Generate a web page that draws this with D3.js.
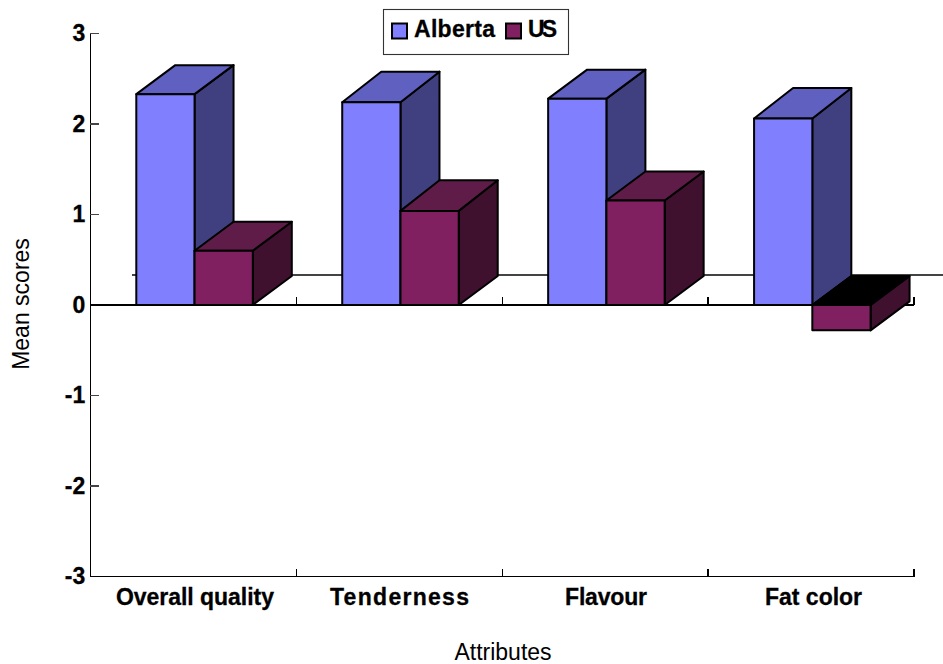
<!DOCTYPE html>
<html>
<head>
<meta charset="utf-8">
<script src="https://cdn.jsdelivr.net/npm/d3@7/dist/d3.min.js"></script>
<style>
  html, body { margin: 0; padding: 0; background: #fff; }
  text { font-family: "Liberation Sans", Arial, sans-serif; fill: #000; }
  .bold { font-weight: bold; font-size: 23px; stroke: #000; stroke-width: 0.3px; }
  .title { font-size: 23px; }
  .axis path, .axis line { stroke: #000; stroke-width: 1.2px; shape-rendering: crispEdges; }
  .axis .tick line { stroke: #444; }
</style>
</head>
<body>
<svg id="chart" width="943" height="664"></svg>
<script>
// Mean attribute scores by region
const categories = ["Overall quality", "Tenderness", "Flavour", "Fat color"];
const seriesNames = ["Alberta", "US"];
const albertaValues = [2.33, 2.24, 2.28, 2.06];
const usValues = [0.60, 1.04, 1.155, -0.28];
const yTicks = [3, 2, 1, 0, -1, -2, -3];
// Rendered widths and horizontal nudges of the category labels
const categoryLabelWidths = [158, 139, 82, 97];
const categoryLabelNudges = [1.7, 0.3, 0.9, 2.5];
// Top-face depth per category
const topDepths = [29, 30.6, 29, 30.6];

const svg = d3.select("#chart");
const plotLeft = 90.3, plotRight = 914, plotTop = 33.5, plotBottom = 576.5;
const depthX = 39, depthY = 29;

const x = d3.scaleBand().domain(categories).range([plotLeft, plotRight]);
// Two bars edge to edge inside each category band
const series = d3.scaleBand().domain(seriesNames).range([46, 162.5]);
const y = d3.scaleLinear().domain([-3, 3]).range([plotBottom, plotTop]);

const palette = {
  Alberta: { front: "#8080ff", top: "#6060c0", side: "#404080" },
  US: { front: "#802060", top: "#601c48", side: "#40102f" }
};

// Back wall floor line, offset by the 3D depth
svg.append("line")
  .attr("x1", 132).attr("x2", 943)
  .attr("y1", 275).attr("y2", 275)
  .attr("stroke", "#444").attr("stroke-width", 1.2)
  .style("shape-rendering", "crispEdges");

// Value axis
const yAxis = d3.axisLeft(y).tickValues(yTicks).tickSize(-9).offset(0)
  .tickFormat(d => String(d));
const yG = svg.append("g").attr("class", "axis").attr("transform", `translate(${plotLeft},0)`).call(yAxis);
yG.select(".domain").attr("d", `M0,${plotTop}V${plotBottom}`);
yG.selectAll("text").attr("class", "bold").attr("x", -5).attr("dy", "0.33em");

// Category axes: one along the bottom, one along zero
const edges = categories.map(c => x(c) + x.bandwidth());
const xBottom = svg.append("g").attr("class", "axis");
const xZero = svg.append("g").attr("class", "axis");
[[xBottom, plotBottom], [xZero, y(0)]].forEach(([g, yPos]) => {
  g.append("line").attr("x1", plotLeft).attr("x2", plotRight).attr("y1", yPos).attr("y2", yPos);
  g.selectAll("line.tick").data(edges).join("line").attr("class", "tick")
    .attr("x1", d => d).attr("x2", d => d)
    .attr("y1", yPos).attr("y2", yPos - 8);
});

// Category labels
svg.selectAll("text.cat").data(categories).join("text")
  .attr("class", "cat bold")
  .attr("x", (d, i) => x(d) + x.bandwidth() / 2 + categoryLabelNudges[i])
  .attr("y", 605)
  .attr("text-anchor", "middle")
  .attr("textLength", (d, i) => categoryLabelWidths[i])
  .attr("lengthAdjust", "spacing")
  .text(d => d);

// Extruded bars, back to front within each group
const records = categories.flatMap((c, i) => [
  { category: c, name: seriesNames[0], value: albertaValues[i], topDepth: topDepths[i] },
  { category: c, name: seriesNames[1], value: usValues[i], topDepth: d3.min([topDepths[i], 30.6]) }
]);

const bars = svg.selectAll("g.bar").data(records).join("g").attr("class", "bar");
const outline = sel => sel.attr("stroke", "#000").attr("stroke-width", 2).attr("stroke-linejoin", "round");

bars.each(function (d) {
  const g = d3.select(this);
  const x0 = x(d.category) + series(d.name);
  const x1 = x0 + series.bandwidth();
  const yV = y(d.value), yZ = y(0);
  const yTop = Math.min(yV, yZ), yBot = Math.max(yV, yZ);
  const colors = palette[d.name];
  // A bar below zero shows its dark underside where the top face would be
  const topFill = d.value < 0 ? "#000" : colors.top;
  const backTop = yTop - (d.value < 0 ? depthY : d.topDepth);

  g.append("polygon").call(outline).attr("fill", colors.side)
    .attr("points", [[x1, yTop], [x1 + depthX, backTop], [x1 + depthX, yBot - depthY], [x1, yBot]].join(" "));
  g.append("polygon").call(outline).attr("fill", topFill)
    .attr("points", [[x0, yTop], [x0 + depthX, backTop], [x1 + depthX, backTop], [x1, yTop]].join(" "));
  g.append("rect").call(outline).attr("fill", colors.front)
    .attr("x", x0).attr("y", yTop).attr("width", series.bandwidth()).attr("height", yBot - yTop);
});

// Axis titles
svg.append("text").attr("class", "title")
  .attr("x", 503).attr("y", 660).attr("text-anchor", "middle").text("Attributes");
svg.append("text").attr("class", "title")
  .attr("transform", "translate(29,304) rotate(-90)").attr("text-anchor", "middle").text("Mean scores");

// Legend
const legend = svg.append("g");
legend.append("rect").attr("x", 383.5).attr("y", 9.5).attr("width", 185).attr("height", 45)
  .attr("fill", "#fff").attr("stroke", "#333").attr("stroke-width", 1.1);
const legendItems = [
  { name: seriesNames[0], sx: 392, tx: 414, width: 81 },
  { name: seriesNames[1], sx: 506, tx: 528, width: 29 }
];
legendItems.forEach(it => {
  legend.append("rect").attr("x", it.sx).attr("y", 23.5).attr("width", 15).attr("height", 15)
    .attr("fill", palette[it.name].front).attr("stroke", "#000").attr("stroke-width", 2);
  legend.append("text").attr("class", "bold").attr("x", it.tx).attr("y", 37)
    .attr("textLength", it.width).attr("lengthAdjust", "spacing").text(it.name);
});
</script>
</body>
</html>
